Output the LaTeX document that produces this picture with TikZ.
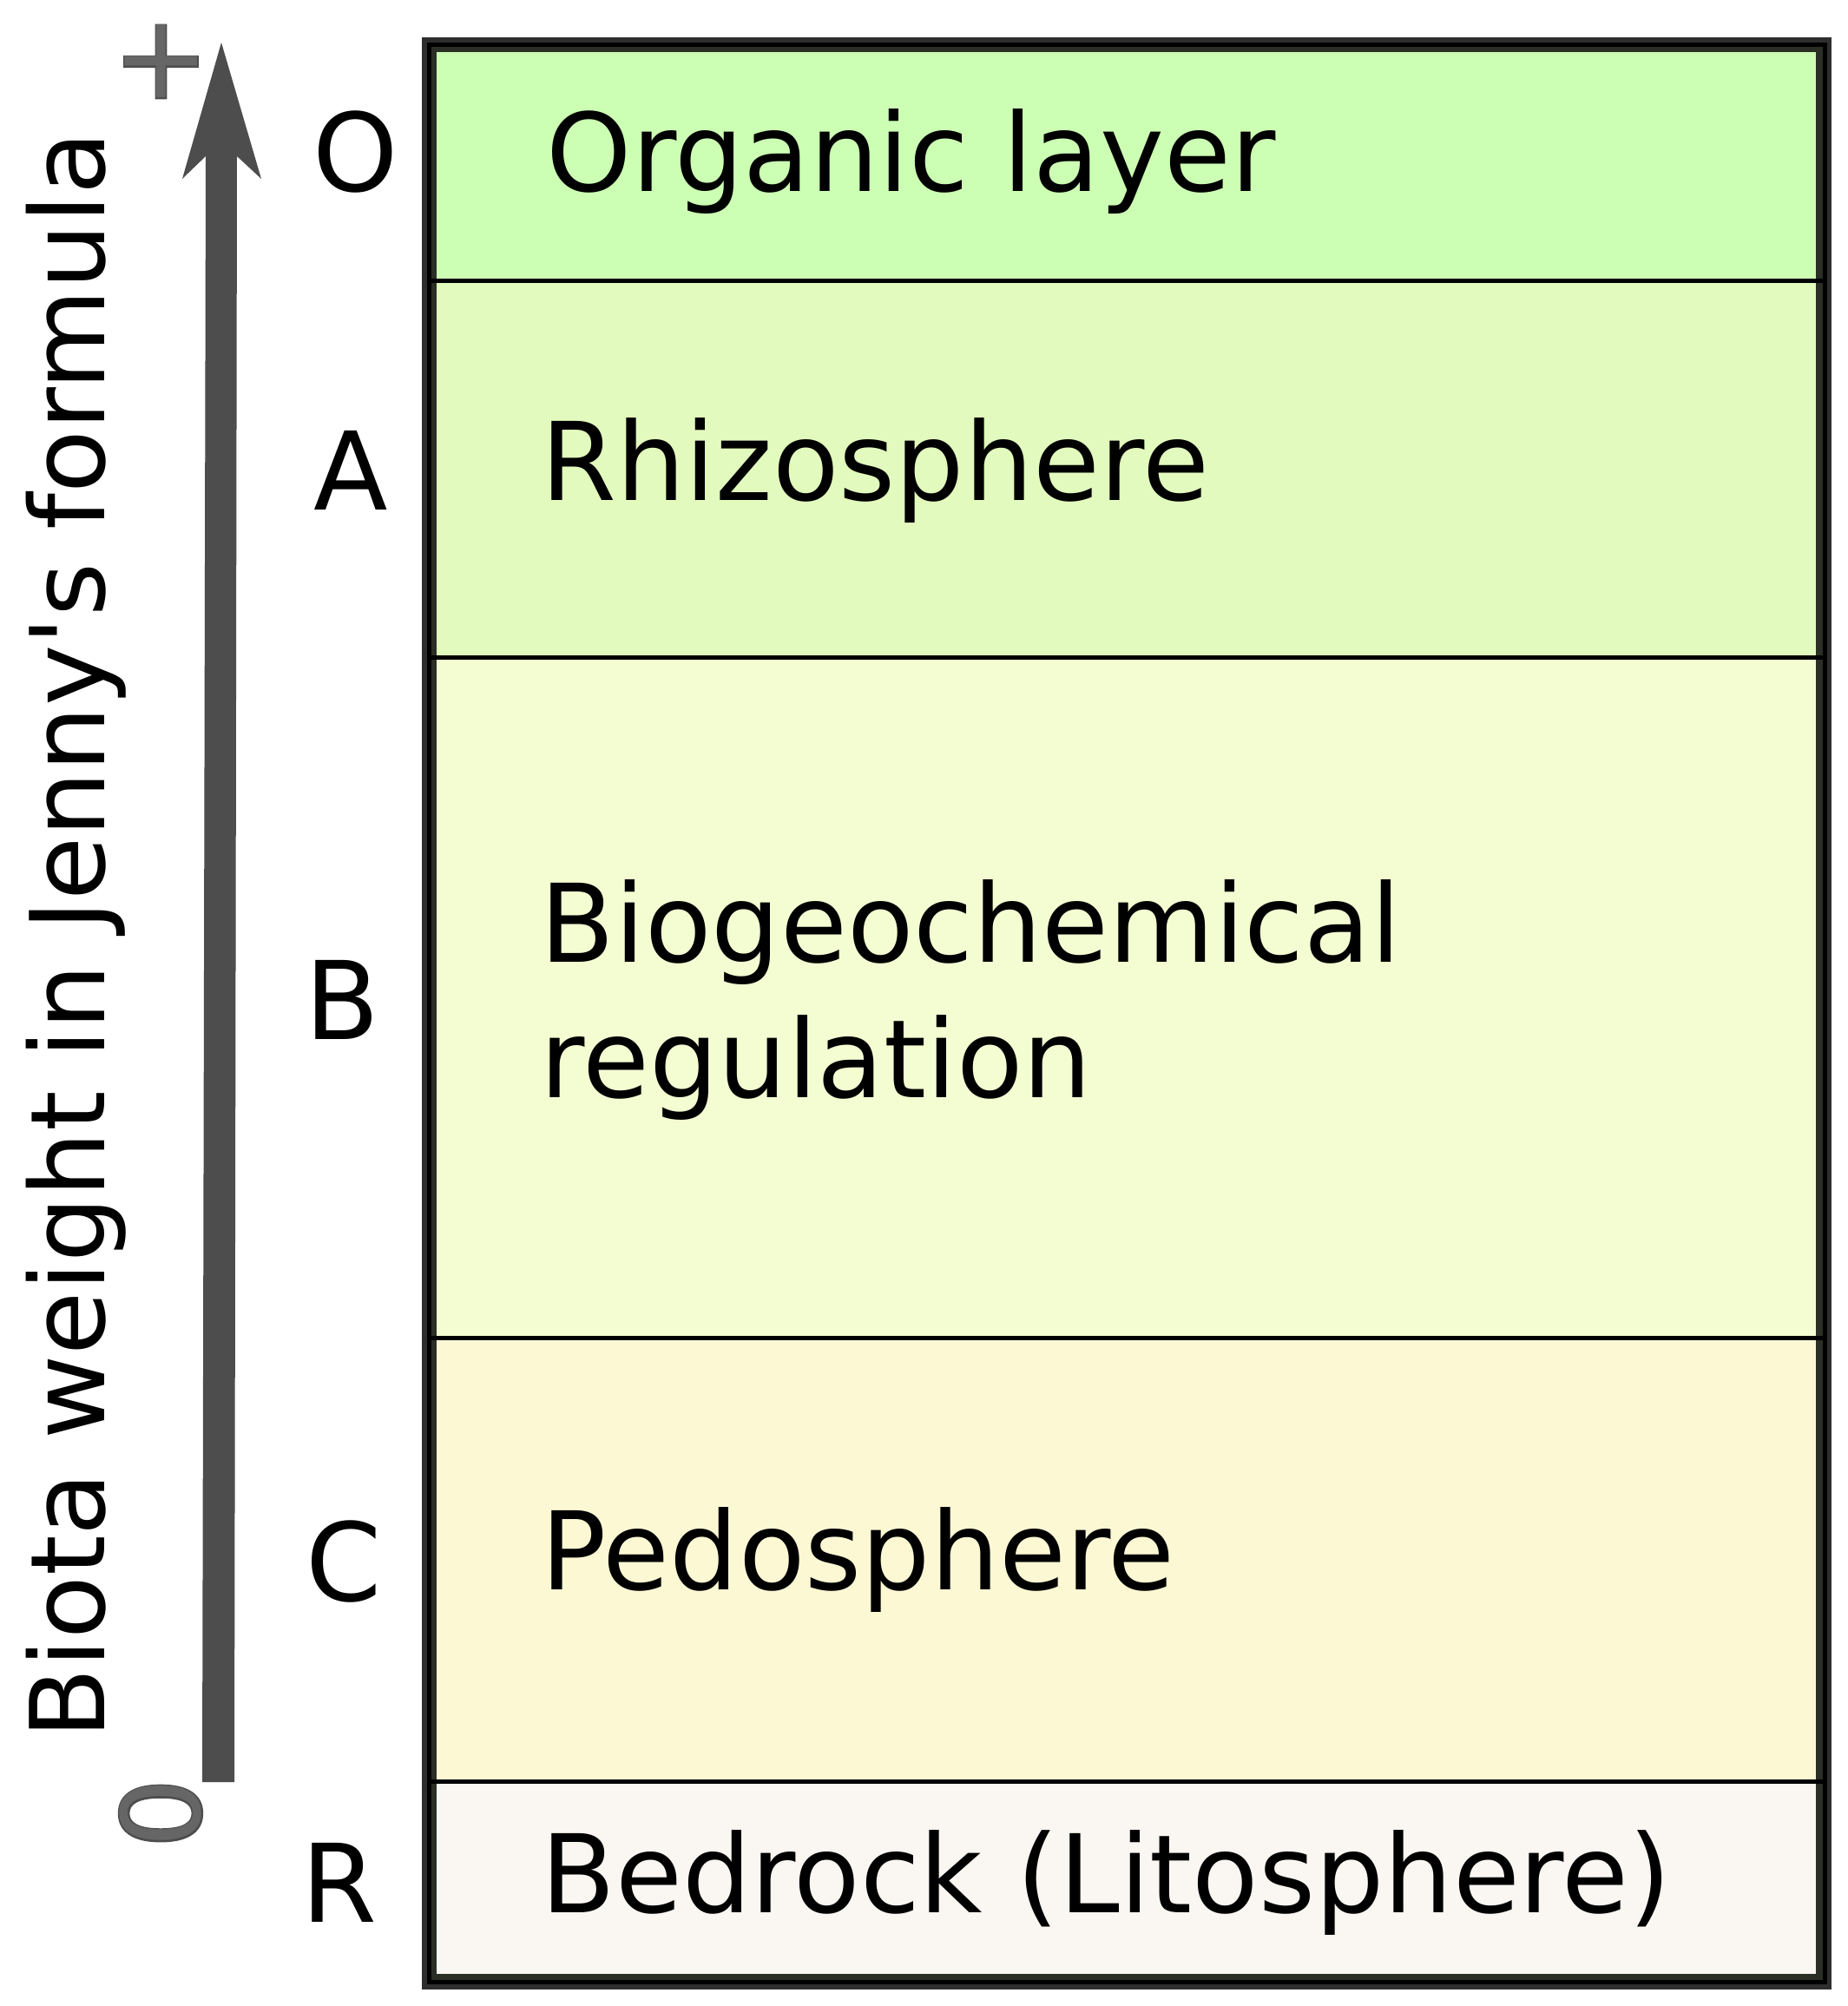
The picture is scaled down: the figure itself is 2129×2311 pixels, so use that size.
\documentclass[tikz,border=0pt]{standalone}
\usepackage{fontspec}
\setmainfont{DejaVu Sans}[Ligatures=TeXOff]
\newfontfamily\signbold{DejaVu Sans}[FakeBold=3]
\newfontfamily\plusbold{DejaVu Sans}[FakeBold=2.2]
\definecolor{bordgray}{HTML}{2E2E2E}
\definecolor{bordolive}{HTML}{2B2E24}
\definecolor{orgc}{HTML}{CCFFB3}
\definecolor{rhic}{HTML}{E2FABD}
\definecolor{bioc}{HTML}{F4FDD2}
\definecolor{pedc}{HTML}{FCF8D4}
\definecolor{bedc}{HTML}{FAF6F1}
\definecolor{arrowgray}{HTML}{4D4D4D}
\definecolor{signfill}{HTML}{666666}
\begin{document}
\begin{tikzpicture}[x=0.25pt,y=-0.25pt,
  horizon/.style={anchor=base west, inner sep=0pt, font=\fontsize{31.25}{39}\selectfont},
  layertext/.style={anchor=base west, inner sep=0pt, font=\fontsize{31.25}{39}\selectfont},
  axislabel/.style={anchor=base west, inner sep=0pt, rotate=90, font=\fontsize{29.75}{37}\selectfont},
  signouter/.style={inner sep=0pt, text=arrowgray},
  signinner/.style={inner sep=0pt, text=signfill},
  divider/.style={line width=1.25pt, black}]
\useasboundingbox (0,0) rectangle (2129,2311);
% box frame
\fill[bordgray] (486,43) rectangle (2110,2292);
\fill[black] (492,49) rectangle (2105,2286);
\fill[bordolive] (497,54) rectangle (2100,2281);
% layers
\fill[orgc] (503,60) rectangle (2092,323.5);
\fill[rhic] (503,323.5) rectangle (2092,757);
\fill[bioc] (503,757) rectangle (2092,1541);
\fill[pedc] (503,1541) rectangle (2092,2052);
\fill[bedc] (503,2052) rectangle (2092,2274);
% dividers
\coordinate (d1l) at (497,323.5); \coordinate (d1r) at (2100,323.5);
\coordinate (d2l) at (497,757);   \coordinate (d2r) at (2100,757);
\coordinate (d3l) at (497,1541);  \coordinate (d3r) at (2100,1541);
\coordinate (d4l) at (497,2052);  \coordinate (d4r) at (2100,2052);
\draw[divider] (d1l) -- (d1r);
\draw[divider] (d2l) -- (d2r);
\draw[divider] (d3l) -- (d3r);
\draw[divider] (d4l) -- (d4r);
% layer texts
\node[layertext] (torg) at (629,221) {Organic layer};
\node[layertext] (trhi) at (623,576) {Rhizosphere};
\node[layertext] (tbio1) at (622,1108) {Biogeochemical};
\node[layertext] (tbio2) at (622,1264) {regulation};
\node[layertext] (tped) at (623,1831) {Pedosphere};
\node[layertext] (tbed) at (623,2203) {Bedrock (Litosphere)};
% horizon letters
\node[horizon] (hO) at (360,221) {O};
\node[horizon] (hA) at (361,587) {A};
\node[horizon] (hB) at (351,1197) {B};
\node[horizon] (hC) at (352,1844) {C};
\node[horizon] (hR) at (347,2214) {R};
% axis arrow
\fill[arrowgray] (255,49) -- (301,206) -- (273,180) -- (270,2053) -- (233,2053) -- (237,180) -- (210,206) -- cycle;
\node[signouter, font=\plusbold\fontsize{33.5}{40}\selectfont] (plusout) at (185.5,71) {+};
\node[signinner, font=\fontsize{33.5}{40}\selectfont] (plus) at (185.5,71) {+};
\node[signouter, rotate=90, font=\signbold\fontsize{31.25}{39}\selectfont] (zeroout) at (185,2089) {0};
\node[signinner, rotate=90, font=\fontsize{31.25}{39}\selectfont] (zero) at (185,2089) {0};
% axis label
\node[axislabel] (axl) at (120,2004) {Biota weight in Jenny's formula};
\end{tikzpicture}
\end{document}
